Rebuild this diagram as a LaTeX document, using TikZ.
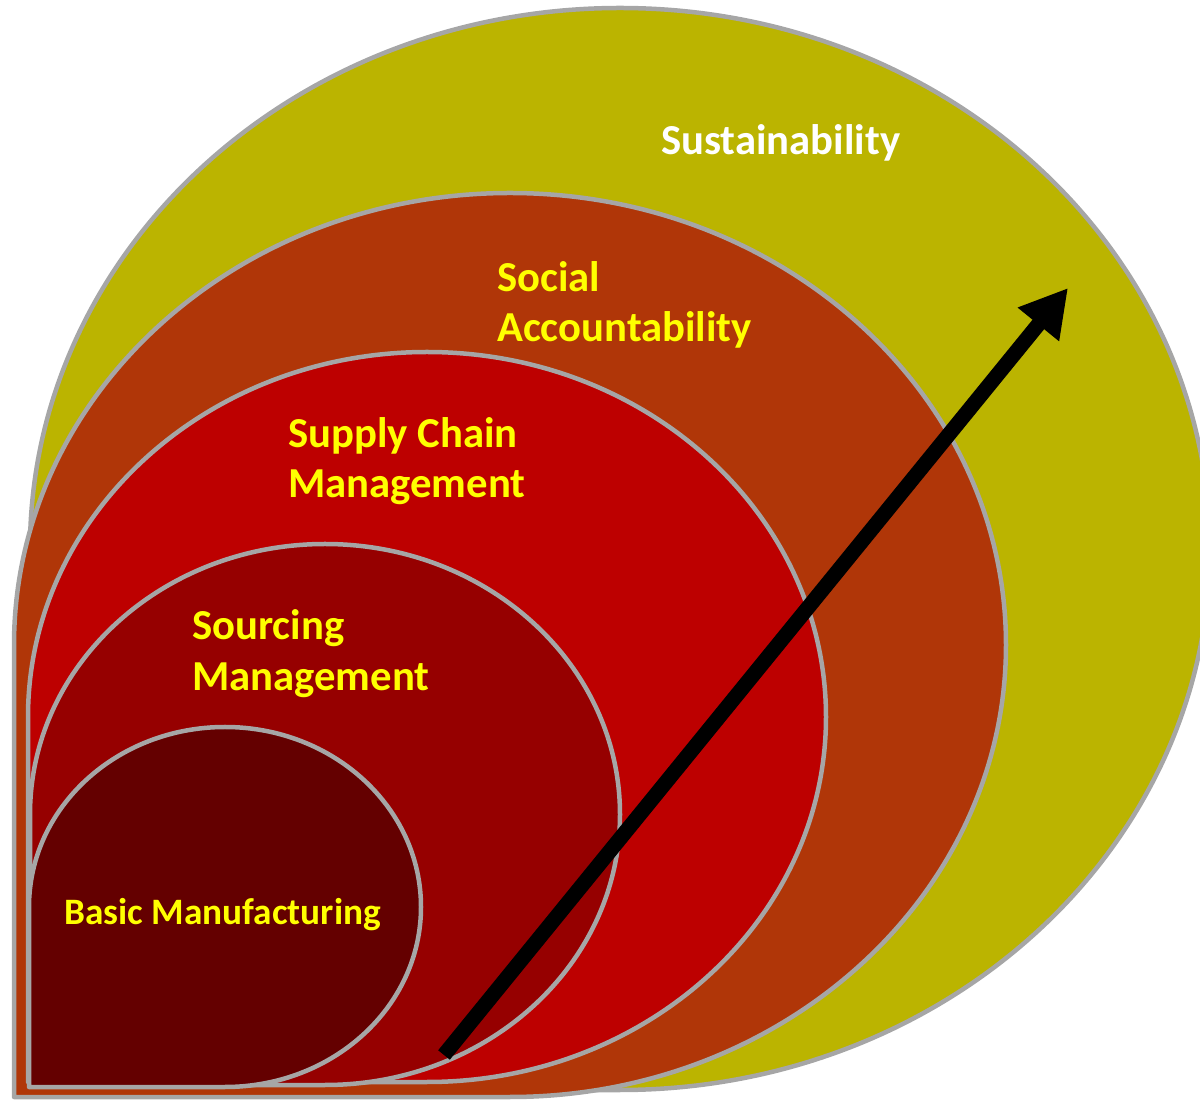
\documentclass[tikz,border=0pt]{standalone}
\usepackage{fontspec}
\setmainfont{Carlito}
\usetikzlibrary{arrows.meta}
\definecolor{olivefill}{RGB}{187,180,0}
\definecolor{rustfill}{RGB}{176,54,8}
\definecolor{redfill}{RGB}{189,0,0}
\definecolor{maroonfill}{RGB}{150,0,0}
\definecolor{darkfill}{RGB}{100,0,0}
\definecolor{rimgray}{RGB}{166,166,166}
\definecolor{labelyellow}{RGB}{255,255,0}
\tikzset{
  layer/.style={draw=rimgray, line width=4.5pt, line join=round},
  biglabel/.style={anchor=base west, inner sep=0pt, font=\bfseries\fontsize{42.7}{50}\selectfont, text=labelyellow},
  smalllabel/.style={anchor=base west, inner sep=0pt, font=\bfseries\fontsize{37.3}{44}\selectfont, text=labelyellow},
  growth/.style={line width=15pt, -{Triangle[length=47pt,width=50pt]}}
}
\begin{document}
\begin{tikzpicture}[x=1pt,y=1pt]
\useasboundingbox (0,0) rectangle (1200,1101);
\clip (0,0) rectangle (1200,1101);
% nested teardrop layers: square corner at bottom left, elliptic elsewhere
\fill[olivefill, layer] (30,11) -- (30,552)
  arc[start angle=180, end angle=-90, x radius=590pt, y radius=541pt] -- cycle;
\fill[rustfill, layer] (14,4) -- (14,456)
  arc[start angle=180, end angle=-90, x radius=496pt, y radius=452pt] -- cycle;
\fill[redfill, layer] (28,19) -- (28,384)
  arc[start angle=180, end angle=-90, x radius=399pt, y radius=365pt] -- cycle;
\fill[maroonfill, layer] (30,16) -- (30,286.5)
  arc[start angle=180, end angle=-90, x radius=295pt, y radius=270.5pt] -- cycle;
\fill[darkfill, layer] (29,14) -- (29,194)
  arc[start angle=180, end angle=-90, x radius=196pt, y radius=180pt] -- cycle;
% labels
\node[biglabel, text=white] (sus) at (661,946) {Sustainability};
\node[biglabel] (soc1) at (497,809) {Social};
\node[biglabel] (soc2) at (497,759) {Accountability};
\node[biglabel] (scm1) at (288,653) {Supply Chain};
\node[biglabel] (scm2) at (288,603) {Management};
\node[biglabel] (src1) at (192,461) {Sourcing};
\node[biglabel] (src2) at (192,410) {Management};
\node[smalllabel] (basic) at (64,176) {Basic Manufacturing};
% rising arrow
\coordinate (arrowtail) at (444,46);
\coordinate (arrowtip) at (1068,813);
\draw[growth] (arrowtail) -- (arrowtip);
\end{tikzpicture}
\end{document}
